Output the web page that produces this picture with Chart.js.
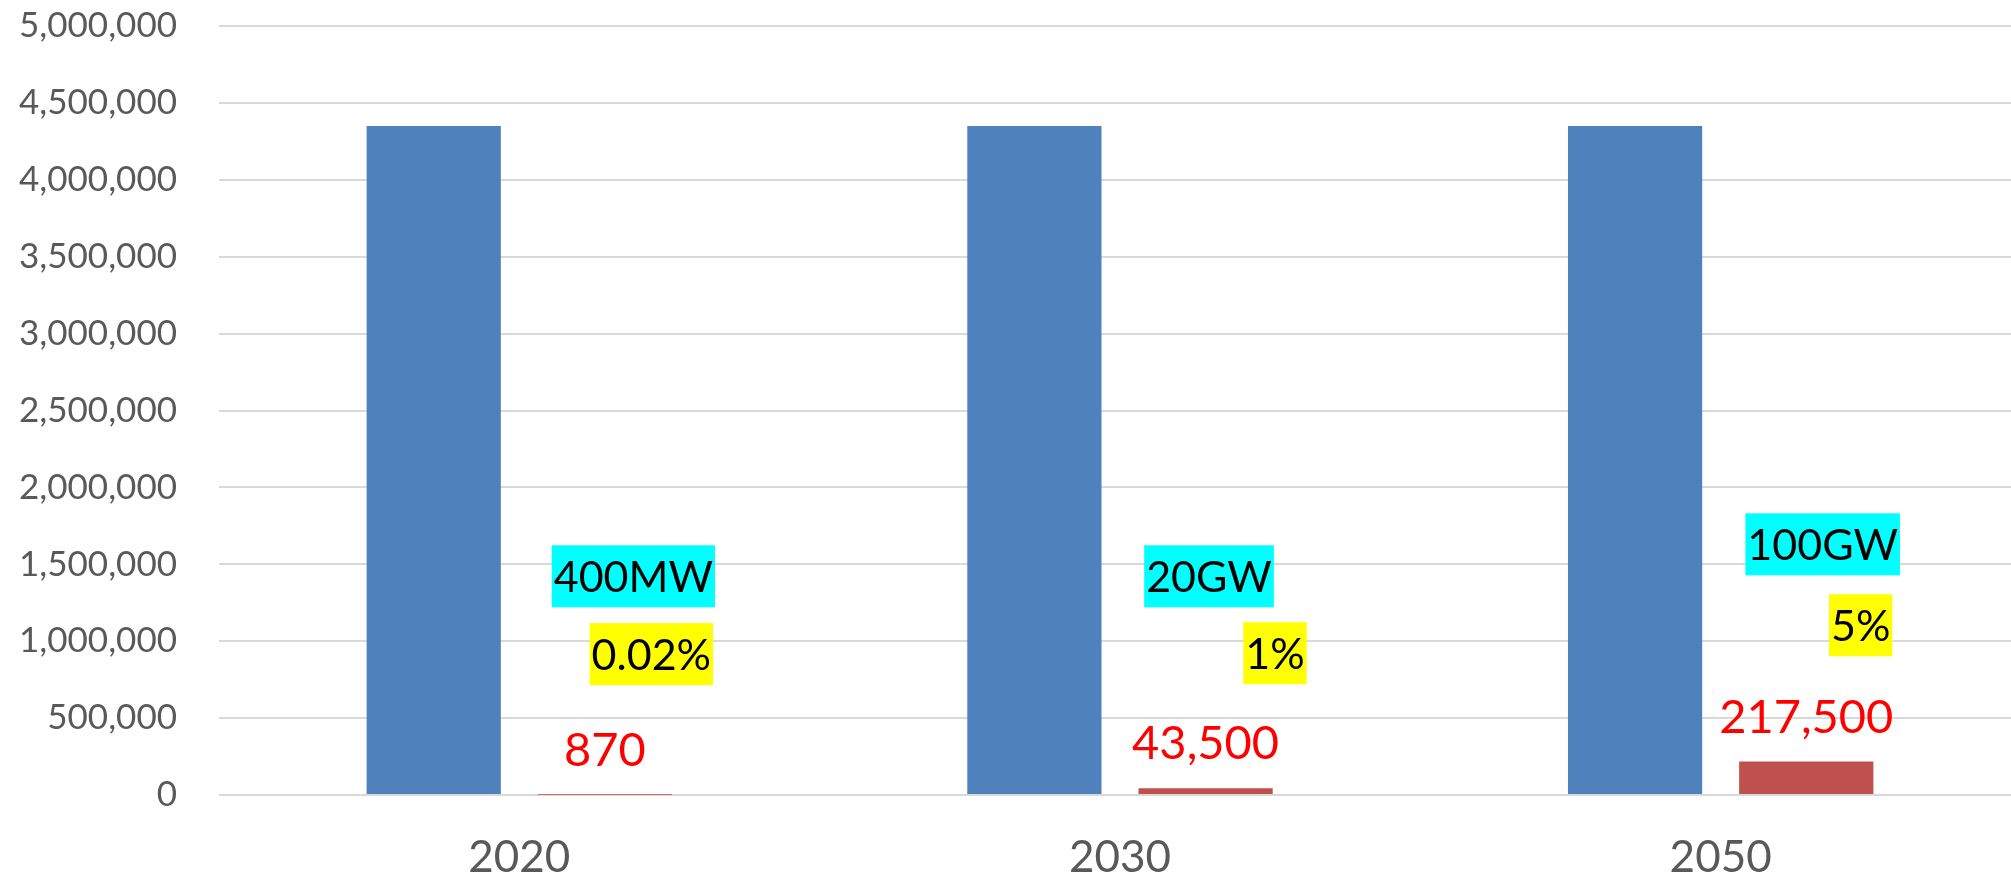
<!DOCTYPE html>
<html>
<head>
<meta charset="utf-8">
<script src="https://cdn.jsdelivr.net/npm/chart.js@4"></script>
<style>
  html, body { margin: 0; padding: 0; background: #fff; overflow: hidden; }
  #wrap { width: 2030px; height: 880px; }
</style>
</head>
<body>
<div id="wrap"><canvas id="hydroBar"></canvas></div>
<script>
const years = ['2020', '2030', '2050'];
const totalValues = [4350000, 4350000, 4350000];
const shareValues = [870, 43500, 217500];
const capacityLabels = ['400MW', '20GW', '100GW'];
const percentLabels = ['0.02%', '1%', '5%'];
const yTicks = [0, 500000, 1000000, 1500000, 2000000, 2500000, 3000000, 3500000, 4000000, 4500000, 5000000];

// where the little text boxes sit: px right of the category centre, and height in axis units
const capacityPos = [[114, 1422000], [89, 1422000], [102, 1630000]];
const percentPos = [[132, 916000], [155, 922000], [140, 1104000]];

const fontName = 'Lato, "Noto Sans", sans-serif';
const clear = 'rgba(0,0,0,0)';

function drawBox(ctx, text, cx, cy, bg) {
    ctx.font = '43px ' + fontName;
    const w = ctx.measureText(text).width + 4;
    const h = 62;
    ctx.fillStyle = bg;
    ctx.fillRect(cx - w / 2, cy - h / 2, w, h);
    ctx.fillStyle = '#000000';
    ctx.textAlign = 'center';
    ctx.textBaseline = 'middle';
    ctx.fillText(text, cx, cy + 2);
}

const labelPlugin = {
    id: 'labelPlugin',
    afterDatasetsDraw(chart) {
        const ctx = chart.ctx;
        const xs = chart.scales.x;
        const ys = chart.scales.y;
        const bars = chart.getDatasetMeta(1).data;
        ctx.save();
        bars.forEach((bar, i) => {
            ctx.font = '47px ' + fontName;
            ctx.fillStyle = '#ff0000';
            ctx.textAlign = 'center';
            ctx.textBaseline = 'middle';
            ctx.fillText(shareValues[i].toLocaleString('en-US'), bar.x, bar.y - 44);

            const c = xs.getPixelForValue(i);
            drawBox(ctx, capacityLabels[i], c + capacityPos[i][0], ys.getPixelForValue(capacityPos[i][1]), '#00ffff');
            drawBox(ctx, percentLabels[i], c + percentPos[i][0], ys.getPixelForValue(percentPos[i][1]), '#ffff00');
        });
        ctx.restore();
    }
};

const data = {
    labels: years,
    datasets: [{
        label: 'Total',
        backgroundColor: '#4f81bd',
        data: totalValues,
        barPercentage: 0.784,
        categoryPercentage: 0.57,
    }, {
        label: 'Share',
        backgroundColor: '#c0504d',
        data: shareValues,
        barPercentage: 0.784,
        categoryPercentage: 0.57,
    }]
};

const config = {
    type: 'bar',
    data: data,
    options: {
        responsive: true,
        maintainAspectRatio: false,
        animation: false,
        layout: { padding: { left: 19, right: 9, top: 26, bottom: 0 } },
        plugins: {
            legend: { display: false },
            tooltip: { enabled: false }
        },
        scales: {
            x: {
                grid: { color: clear, drawOnChartArea: false, tickLength: 41, tickColor: clear },
                border: { display: false },
                ticks: {
                    color: '#595959',
                    padding: 0,
                    font: { family: fontName, size: 44, lineHeight: 1.0 }
                }
            },
            y: {
                min: 0,
                max: 5000000,
                afterBuildTicks(axis) {
                    axis.ticks = yTicks.map(v => ({ value: v }));
                },
                grid: { color: '#d9d9d9', lineWidth: 2, tickLength: 42, tickColor: clear },
                border: { display: false },
                ticks: {
                    color: '#595959',
                    padding: 0,
                    font: { family: fontName, size: 35 },
                    callback: v => v.toLocaleString('en-US')
                }
            }
        }
    },
    plugins: [labelPlugin]
};

const hydroBar = new Chart(document.getElementById('hydroBar'), config);
</script>
</body>
</html>
